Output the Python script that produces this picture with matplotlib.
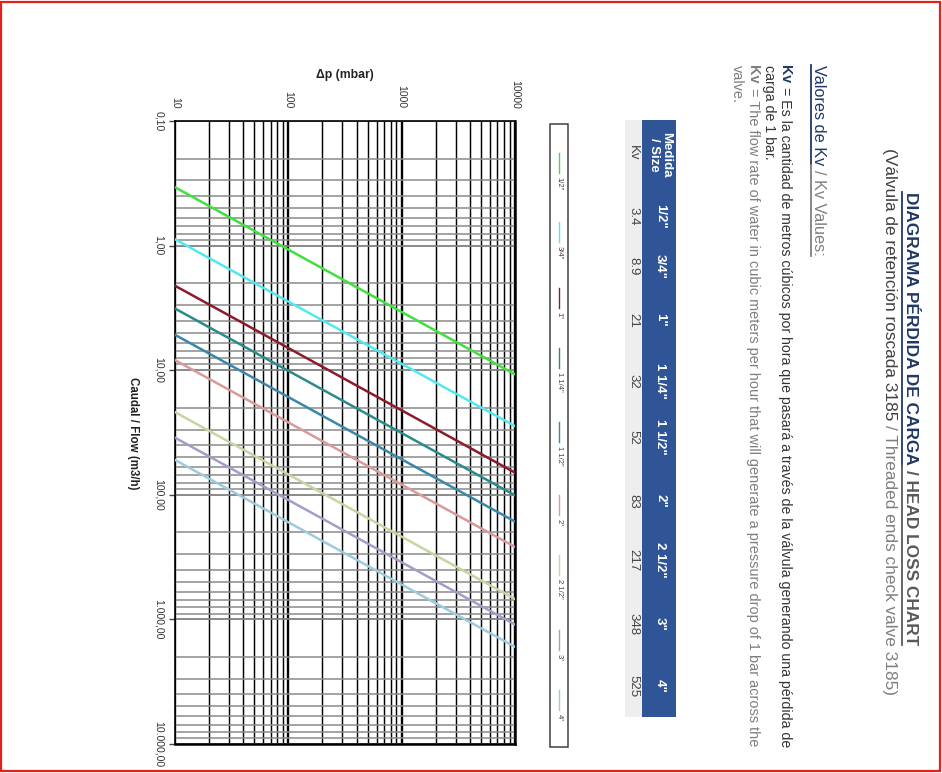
import matplotlib
matplotlib.use("Agg")
import matplotlib.pyplot as plt
from matplotlib.lines import Line2D
from matplotlib.patches import Rectangle
from matplotlib.ticker import FixedLocator, NullFormatter

# sizes and Kv values (from the table)
sizes = ['1/2"', '3/4"', '1"', '1 1/4"', '1 1/2"', '2"', '2 1/2"', '3"', '4"']
kv = ['3.4', '8.9', '21', '32', '52', '83', '217', '348', '525']

# flow at both ends of the pressure range
dp_ends = [10, 10000]
q_start = [0.34, 0.89, 2.1, 3.2, 5.2, 8.3, 21.7, 34.8, 52.5]
q_end = [10.8, 28.1, 66.4, 101, 164, 262, 686, 1100, 1660]

colors = ['#3fe03f', '#4fe9f2', '#8b1c2c', '#2b8a8c', '#3a88a8',
          '#d99a9a', '#c5d6a0', '#a99bc9', '#9ccbdc']

dp_ticks = [10, 100, 1000, 10000]
dp_labels = ['10', '100', '1000', '10000']
q_ticks = [0.1, 1, 10, 100, 1000, 10000]
q_labels = ['0,10', '1,00', '10,00', '100,00', '1.000,00', '10.000,00']

W, H, DPI = 942, 773, 100
NAVY = '#1f3864'
GRAY = '#7f7f7f'
DARK = '#333333'

plt.rcParams['font.family'] = ['Liberation Sans', 'DejaVu Sans']

fig = plt.figure(figsize=(W / DPI, H / DPI), dpi=DPI)
rend = fig.canvas.get_renderer()


def px(x):
    return x / W


def py(y):
    return 1 - y / H


def vtext(x, y, s, **kw):
    kw.setdefault('rotation', -90)
    return fig.text(px(x), py(y), s, **kw)


def run_line(x, y, runs, size, underline=None):
    # runs of (text, color, weight, spaces before) laid out top to bottom
    cur = y
    sp = 0.278 * size * DPI / 72
    for s, c, w, gap in runs:
        start = cur
        cur += gap * sp
        t = vtext(x, cur, s, ha='center', va='top', fontsize=size,
                  color=c, fontweight=w)
        cur += t.get_window_extent(rend).height
        if underline is not None:
            fig.add_artist(Line2D([px(underline)] * 2, [py(start), py(cur)],
                                  color=c, lw=1.3))
    return cur


# page frame
fig.add_artist(Rectangle((0.001, 0.002), 0.997, 0.996, transform=fig.transFigure,
                         fill=False, edgecolor='#e3201b', lw=1.6))

# chart
ax = fig.add_axes([px(175), py(744), px(515) - px(175), py(121) - py(744)])
ax.set_xscale('log')
ax.set_yscale('log')
for i in range(len(sizes)):
    ax.plot(dp_ends, [q_start[i], q_end[i]], color=colors[i], lw=1.8, zorder=3)
ax.set_xlim(10, 10000)
ax.set_ylim(10000, 0.1)

ax.xaxis.tick_top()
ax.set_xticks(dp_ticks)
ax.set_xticklabels(dp_labels, rotation=-90, fontsize=7.5, color=DARK)
ax.set_yticks(q_ticks)
ax.set_yticklabels(q_labels, rotation=-90, fontsize=7.6, color=DARK, va='center')
minor = [m * 10 ** e for e in range(-1, 4) for m in range(2, 10)]
ax.xaxis.set_minor_locator(FixedLocator([v for v in minor if 10 < v < 10000]))
ax.yaxis.set_minor_locator(FixedLocator(minor))
ax.xaxis.set_minor_formatter(NullFormatter())
ax.yaxis.set_minor_formatter(NullFormatter())
ax.tick_params(axis='x', which='both', length=0, pad=9)
ax.tick_params(axis='y', which='major', length=4, width=1, pad=4, color='#444444')
ax.tick_params(axis='y', which='minor', length=0)
ax.grid(True, which='major', axis='x', color='black', lw=1.7)
ax.grid(True, which='minor', axis='x', color='black', lw=1.05)
ax.grid(True, which='major', axis='y', color='#808080', lw=1.3)
ax.grid(True, which='minor', axis='y', color='#8a8a8a', lw=1.1)
for side in ax.spines.values():
    side.set_color('black')
    side.set_linewidth(1.2)
ax.spines['right'].set_linewidth(1.8)
ax.spines['bottom'].set_linewidth(1.8)

fig.text(px(345), py(75), 'Δp (mbar)', ha='center', va='center',
         fontsize=8.8, fontweight='bold', color='#222222')
vtext(133, 433, 'Caudal / Flow (m3/h)', ha='center', va='center',
      fontsize=8.3, fontweight='bold', color='#222222')

# legend box
fig.add_artist(Rectangle((px(550), py(747)), px(568) - px(550), py(124) - py(747),
                         transform=fig.transFigure, fill=False, edgecolor='#404040', lw=1.1))
leg_start = [153, 222, 288, 348, 422, 495, 555, 630, 690]
for i, s in enumerate(sizes):
    y0 = leg_start[i]
    fig.add_artist(Line2D([px(559)] * 2, [py(y0), py(y0 + 20)], color=colors[i], lw=1.0))
    vtext(559, y0 + 24, s, ha='center', va='top', fontsize=5.5, color='#404040')

# title block
run_line(911, 192, [('DIAGRAMA PÉRDIDA DE CARGA', NAVY, 'bold', 0),
                    ('/ HEAD LOSS CHART', '#595959', 'bold', 1)], 12.4, underline=902)
run_line(890, 148, [('(Válvula de retención roscada 3185', '#404040', 'normal', 0),
                    ('/ Threaded ends check valve 3185)', GRAY, 'normal', 1)], 12.4)
run_line(818, 65, [('Valores de Kv', NAVY, 'normal', 0),
                   ('/ Kv Values:', GRAY, 'normal', 1)], 11.7, underline=811)

run_line(785, 65, [('Kv', NAVY, 'bold', 0),
                   ('= Es la cantidad de metros cúbicos por hora que pasará a través de la válvula generando una pérdida de',
                    DARK, 'normal', 1)], 10.2)
run_line(769, 65, [('carga de 1 bar.', DARK, 'normal', 0)], 10.2)
run_line(753, 65, [('Kv', GRAY, 'bold', 0),
                   ('= The flow rate of water in cubic meters per hour that will generate a pressure drop of 1 bar across the',
                    GRAY, 'normal', 1)], 10.45)
run_line(737, 65, [('valve.', GRAY, 'normal', 0)], 10.45)

# Kv table
fig.add_artist(Rectangle((px(642), py(717)), px(676) - px(642), py(120) - py(717),
                         transform=fig.transFigure, color='#2f5597', lw=0))
fig.add_artist(Rectangle((px(625), py(717)), px(642) - px(625), py(120) - py(717),
                         transform=fig.transFigure, color='#eeeeee', lw=0))
vtext(660, 155, 'Medida\n/ Size', ha='center', va='center', fontsize=9.5,
      fontweight='bold', color='white', linespacing=0.95)
vtext(633, 153, 'Kv', ha='center', va='center', fontsize=9.5, color='#444444')
col_y = [216, 266, 320, 381, 437, 501, 560, 624, 686]
for i in range(len(sizes)):
    vtext(660, col_y[i], sizes[i], ha='center', va='center', fontsize=9.5,
          fontweight='bold', color='white')
    vtext(633, col_y[i], kv[i], ha='center', va='center', fontsize=9.5, color='#444444')

fig.savefig('out.png', dpi=DPI)
